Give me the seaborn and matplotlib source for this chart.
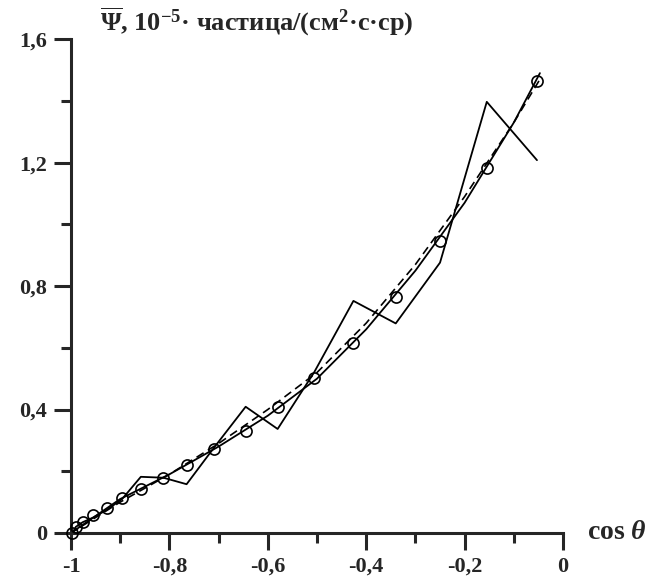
import matplotlib
matplotlib.use("Agg")
import matplotlib.pyplot as plt
import seaborn as sns
import pandas as pd

# measured points (circles)
cos_pts = [-0.997, -0.990, -0.976, -0.955, -0.927, -0.896, -0.858, -0.812, -0.765,
           -0.710, -0.645, -0.580, -0.506, -0.426, -0.340, -0.250, -0.155, -0.053]
psi_pts = [0.001, 0.020, 0.037, 0.058, 0.082, 0.112, 0.143, 0.178, 0.221,
           0.272, 0.331, 0.409, 0.503, 0.616, 0.764, 0.947, 1.181, 1.463]

# raw (zigzag) values at the same cos points
psi_raw = [0.0, 0.020, 0.035, 0.050, 0.075, 0.110, 0.182, 0.179, 0.158,
           0.275, 0.409, 0.337, 0.520, 0.752, 0.679, 0.876, 1.397, 1.208]

# smooth fit (solid) and second fit (dashed)
cos_fit = [-1.0, -0.9, -0.8, -0.7, -0.6, -0.5, -0.4, -0.3, -0.2, -0.1, -0.047]
psi_fit = [0.0, 0.11, 0.19, 0.28, 0.38, 0.50, 0.66, 0.85, 1.07, 1.33, 1.49]
psi_dash = [0.0, 0.10, 0.19, 0.29, 0.40, 0.52, 0.68, 0.87, 1.09, 1.33, 1.47]

x_ticks = [-1.0, -0.8, -0.6, -0.4, -0.2, 0.0]
x_labels = ['-1', '-0,8', '-0,6', '-0,4', '-0,2', '0']
y_ticks = [0.0, 0.4, 0.8, 1.2, 1.6]
y_labels = ['0', '0,4', '0,8', '1,2', '1,6']

sns.set_style("ticks")
plt.rcParams['font.family'] = ['Liberation Serif', 'DejaVu Serif']
plt.rcParams['font.weight'] = 'bold'
plt.rcParams['mathtext.fontset'] = 'custom'
plt.rcParams['mathtext.rm'] = 'Liberation Serif:bold'
plt.rcParams['mathtext.bf'] = 'Liberation Serif:bold'
plt.rcParams['mathtext.it'] = 'Liberation Serif:italic:bold'

fig = plt.figure(figsize=(6.57, 5.83), dpi=100)
ax = fig.add_axes([0.108, 0.0858, 0.749, 0.847])

df_raw = pd.DataFrame({'x': cos_pts, 'y': psi_raw})
df_fit = pd.DataFrame({'x': cos_fit, 'y': psi_fit, 'd': psi_dash})
df_pts = pd.DataFrame({'x': cos_pts, 'y': psi_pts})

sns.lineplot(data=df_raw, x='x', y='y', sort=False, estimator=None, color='black',
             linewidth=1.3, ax=ax, clip_on=False)
sns.lineplot(data=df_fit, x='x', y='y', sort=False, estimator=None, color='black',
             linewidth=1.3, ax=ax, clip_on=False)
sns.lineplot(data=df_fit, x='x', y='d', sort=False, estimator=None, color='black',
             linewidth=1.2, linestyle=(0, (5, 3)), ax=ax, clip_on=False)
ax.plot(df_pts['x'], df_pts['y'], 'o', ms=8, mfc='none', mec='black', mew=1.2,
        clip_on=False, zorder=5)

ax.set_xlim(-1.0, 0.0)
ax.set_ylim(0.0, 1.6)
sns.despine(ax=ax)
for s in ['left', 'bottom']:
    ax.spines[s].set_linewidth(2.2)

ax.set_xticks(x_ticks)
ax.set_xticklabels(x_labels)
ax.set_xticks([-0.9, -0.7, -0.5, -0.3, -0.1], minor=True)
ax.set_yticks(y_ticks)
ax.set_yticklabels(y_labels)
ax.set_yticks([0.2, 0.6, 1.0, 1.4], minor=True)
ax.tick_params(axis='both', which='major', direction='out', length=12, width=2.2,
               labelsize=16, pad=5)
ax.tick_params(axis='both', which='minor', direction='out', length=7, width=2.2)
ax.set_xlabel('')
ax.set_ylabel('')

fig.text(0.152, 0.962, r'$\overline{\Psi}$, 10$^{-5}$· частица/(см$^2$·с·ср)',
         fontsize=19, fontweight='bold', ha='left', va='center')
fig.text(0.893, 0.0858, r'cos $\theta$', fontsize=20, fontweight='bold',
         ha='left', va='center')

fig.savefig('out.png', dpi=100)
